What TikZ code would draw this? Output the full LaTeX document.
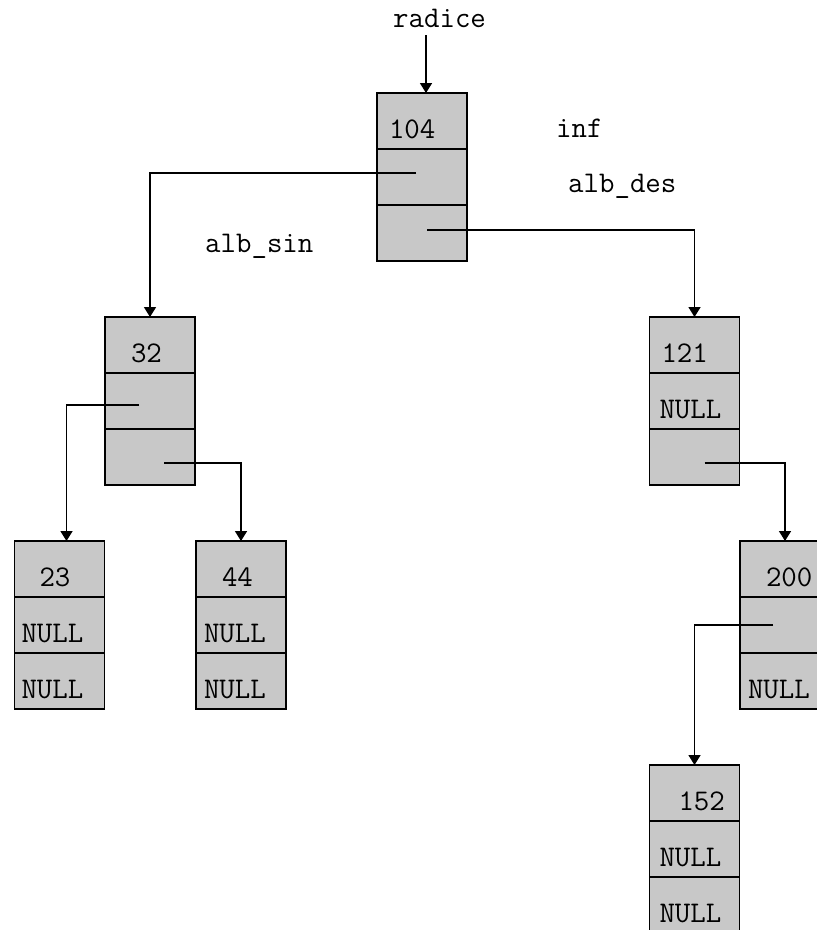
\documentclass[tikz,border=0pt]{standalone}
\usetikzlibrary{arrows.meta,positioning}
\definecolor{cellgray}{HTML}{C8C8C8}
\newcommand{\codefont}{\fontsize{30}{34}\selectfont\ttfamily}
\tikzset{
  cell/.style={
    draw=black,
    line width=1.5pt,
    fill=cellgray,
    minimum height=56pt,
    text width=90pt,
    inner xsep=0pt,
    inner ysep=0pt,
    outer sep=0pt,
    align=left,
    text height=34pt,
    text depth=0pt,
    font=\codefont,
    execute at begin node={\hspace*{#1}}
  },
  cell/.default=8pt,
  tag/.style={font=\codefont,anchor=base west,inner sep=0pt},
  ptr/.style={-{Triangle[length=10pt,width=12pt]},line width=1.6pt,draw=black}
}
\begin{document}
\begin{tikzpicture}[x=1pt,y=-1pt]
\clip (0,0) rectangle (817,930);
% root
\node[cell=12pt] (r1) at (422,121) {104};
\node[cell,below=0pt of r1] (r2) {};
\node[cell,below=0pt of r2] (r3) {};
% second row
\node[cell=26pt] (a1) at (150,345) {32};
\node[cell,below=0pt of a1] (a2) {};
\node[cell,below=0pt of a2] (a3) {};
\node[cell=12pt] (b1) at (694.5,345) {121};
\node[cell=10pt,below=0pt of b1] (b2) {NULL};
\node[cell,below=0pt of b2] (b3) {};
% third row
\node[cell=25pt] (c1) at (59.5,569) {23};
\node[cell=7pt,below=0pt of c1] (c2) {NULL};
\node[cell=7pt,below=0pt of c2] (c3) {NULL};
\node[cell=26pt] (d1) at (241,569) {44};
\node[cell,below=0pt of d1] (d2) {NULL};
\node[cell,below=0pt of d2] (d3) {NULL};
\node[cell=26pt] (e1) at (785,569) {200};
\node[cell,below=0pt of e1] (e2) {};
\node[cell,below=0pt of e2] (e3) {NULL};
% fourth row
\node[cell=29pt] (f1) at (694.5,793) {152};
\node[cell=10pt,below=0pt of f1] (f2) {NULL};
\node[cell=10pt,below=0pt of f2] (f3) {NULL};
% labels
\node[tag] (radice) at (393,27) {radice};
\node[tag] (inf) at (556,137) {inf};
\node[tag] (des) at (568,192) {alb\_des};
\node[tag] (sin) at (205,252) {alb\_sin};
% pointers
\coordinate (rtop) at (426,35);
\draw[ptr] (rtop) -- (rtop |- r1.north);
\draw[ptr] ([shift={(-6,-4)}]r2.center) -| (a1.north);
\draw[ptr] ([shift={(5,-3)}]r3.center) -| (b1.north);
\draw[ptr] ([shift={(-11,4)}]a2.center) -| ([xshift=7pt]c1.north);
\draw[ptr] ([shift={(14,6)}]a3.center) -| (d1.north);
\draw[ptr] ([shift={(10,6)}]b3.center) -| (e1.north);
\draw[ptr] ([shift={(-12,0)}]e2.center) -| (f1.north);
\end{tikzpicture}
\end{document}
